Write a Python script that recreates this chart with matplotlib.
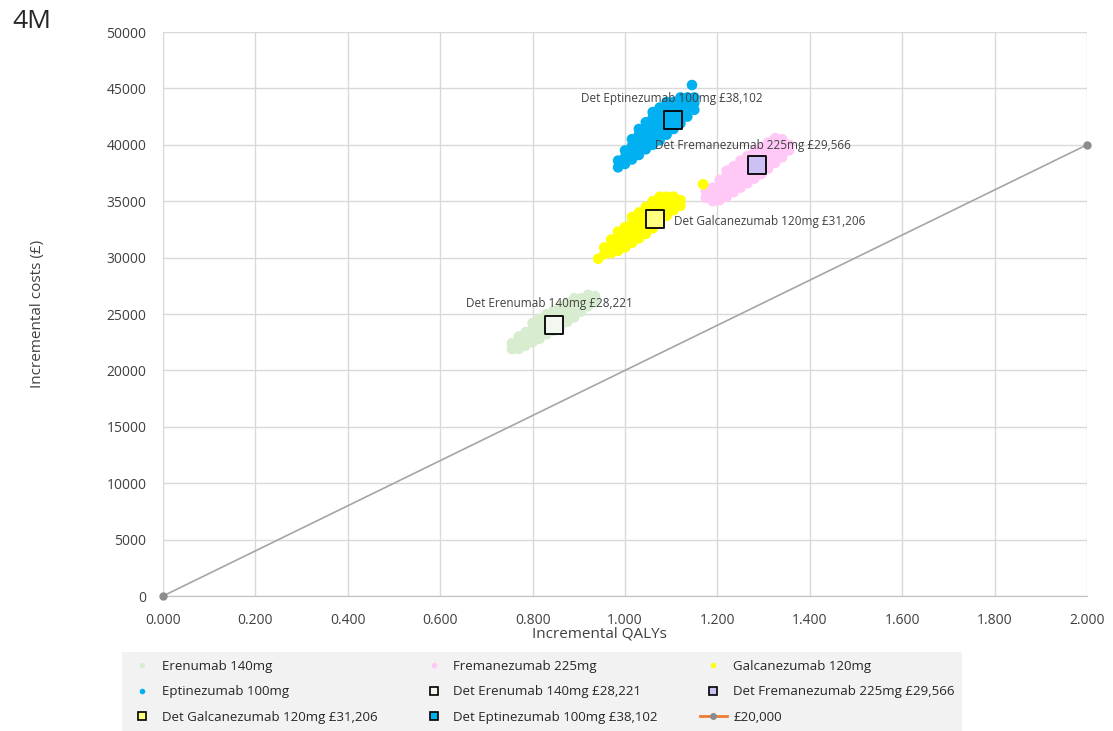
import matplotlib
matplotlib.use("Agg")
import matplotlib.pyplot as plt
from matplotlib.lines import Line2D

plt.rcParams['font.family'] = ['Open Sans', 'DejaVu Sans']

# ---------------- data ----------------
erenumab_pts = [
    (0.755, 21900), (0.755, 22400),
    (0.770, 21900), (0.770, 22500), (0.770, 23000),
    (0.785, 22200), (0.785, 22800), (0.785, 23400),
    (0.800, 22500), (0.800, 23100), (0.800, 23700), (0.800, 24200),
    (0.815, 22800), (0.815, 23400), (0.815, 24000), (0.815, 24600),
    (0.830, 23200), (0.830, 23800), (0.830, 24400), (0.830, 25000),
    (0.845, 23500), (0.845, 24100), (0.845, 24700), (0.845, 25300),
    (0.860, 23900), (0.860, 24500), (0.860, 25100), (0.860, 25700),
    (0.875, 24300), (0.875, 24900), (0.875, 25500), (0.875, 26000),
    (0.890, 24700), (0.890, 25300), (0.890, 25900), (0.890, 26400),
    (0.905, 25200), (0.905, 25800), (0.905, 26400),
    (0.920, 25700), (0.920, 26300), (0.920, 26700),
    (0.935, 26200), (0.935, 26600),
]
fremanezumab_pts = [
    (1.175, 35300), (1.175, 35900),
    (1.190, 35000), (1.190, 35600), (1.190, 36200),
    (1.205, 35100), (1.205, 35700), (1.205, 36300), (1.205, 36900),
    (1.220, 35400), (1.220, 36000), (1.220, 36600), (1.220, 37200), (1.220, 37700),
    (1.235, 35800), (1.235, 36400), (1.235, 37000), (1.235, 37600), (1.235, 38100),
    (1.250, 36200), (1.250, 36800), (1.250, 37400), (1.250, 38000), (1.250, 38600),
    (1.265, 36600), (1.265, 37200), (1.265, 37800), (1.265, 38400), (1.265, 39000),
    (1.280, 37000), (1.280, 37600), (1.280, 38200), (1.280, 38800), (1.280, 39400),
    (1.295, 37400), (1.295, 38000), (1.295, 38600), (1.295, 39200), (1.295, 39800),
    (1.310, 37900), (1.310, 38500), (1.310, 39100), (1.310, 39700), (1.310, 40200),
    (1.325, 38400), (1.325, 39000), (1.325, 39600), (1.325, 40200), (1.325, 40600),
    (1.340, 38900), (1.340, 39500), (1.340, 40100), (1.340, 40500),
    (1.355, 39500), (1.355, 40000),
]
galcanezumab_pts = [
    (0.942, 29900),
    (0.955, 30300), (0.955, 30900),
    (0.970, 30400), (0.970, 31000), (0.970, 31600),
    (0.985, 30600), (0.985, 31200), (0.985, 31800), (0.985, 32300),
    (1.000, 30900), (1.000, 31500), (1.000, 32100), (1.000, 32700),
    (1.015, 31300), (1.015, 31900), (1.015, 32500), (1.015, 33100), (1.015, 33600),
    (1.030, 31700), (1.030, 32300), (1.030, 32900), (1.030, 33500), (1.030, 34000),
    (1.045, 32100), (1.045, 32700), (1.045, 33300), (1.045, 33900), (1.045, 34500),
    (1.060, 32600), (1.060, 33200), (1.060, 33800), (1.060, 34400), (1.060, 35000),
    (1.075, 33100), (1.075, 33700), (1.075, 34300), (1.075, 34900), (1.075, 35400),
    (1.090, 33700), (1.090, 34300), (1.090, 34900), (1.090, 35400),
    (1.105, 34200), (1.105, 34800), (1.105, 35400),
    (1.120, 34600), (1.120, 35100),
    (1.169, 36500),
]
eptinezumab_pts = [
    (0.985, 38000), (0.985, 38600),
    (1.000, 38300), (1.000, 38900), (1.000, 39500),
    (1.015, 38700), (1.015, 39300), (1.015, 39900), (1.015, 40500),
    (1.030, 39100), (1.030, 39700), (1.030, 40300), (1.030, 40900), (1.030, 41400),
    (1.045, 39600), (1.045, 40200), (1.045, 40800), (1.045, 41400), (1.045, 42000),
    (1.060, 40000), (1.060, 40600), (1.060, 41200), (1.060, 41800), (1.060, 42400), (1.060, 42900),
    (1.075, 40400), (1.075, 41000), (1.075, 41600), (1.075, 42200), (1.075, 42800), (1.075, 43300),
    (1.090, 40900), (1.090, 41500), (1.090, 42100), (1.090, 42700), (1.090, 43300), (1.090, 43800),
    (1.105, 41400), (1.105, 42000), (1.105, 42600), (1.105, 43200), (1.105, 43800),
    (1.120, 41900), (1.120, 42500), (1.120, 43100), (1.120, 43700), (1.120, 44200),
    (1.135, 42500), (1.135, 43100), (1.135, 43700), (1.135, 44200),
    (1.150, 43100), (1.150, 43700), (1.150, 44200),
    (1.145, 45300),
]

det_names = ["Det Erenumab 140mg £28,221", "Det Fremanezumab 225mg £29,566",
             "Det Galcanezumab 120mg £31,206", "Det Eptinezumab 100mg £38,102"]
det_x = [0.846, 1.286, 1.065, 1.104]
det_y = [24000, 38200, 33400, 42200]

wtp_x = [0.0, 2.0]
wtp_y = [0, 40000]

x_ticks = [0.0, 0.2, 0.4, 0.6, 0.8, 1.0, 1.2, 1.4, 1.6, 1.8, 2.0]
y_ticks = [0, 5000, 10000, 15000, 20000, 25000, 30000, 35000, 40000, 45000, 50000]

# ---------------- figure ----------------
W, H = 1113, 731
fig = plt.figure(figsize=(W / 100, H / 100), dpi=100)
ax_l, ax_r, ax_t, ax_b = 163, 1087, 32, 596
ax = fig.add_axes([ax_l / W, 1 - ax_b / H, (ax_r - ax_l) / W, (ax_b - ax_t) / H])

grid_c = "#d9d9d9"
ax.set_xlim(0, 2.0)
ax.set_ylim(0, 50000)
ax.set_xticks(x_ticks)
ax.set_yticks(y_ticks)
ax.set_xticklabels([f"{v:.3f}" for v in x_ticks])
ax.set_yticklabels([str(v) for v in y_ticks])
ax.grid(True, color=grid_c, linewidth=1)
ax.set_axisbelow(True)
for s in ["top", "right"]:
    ax.spines[s].set_visible(False)
ax.spines["left"].set_color(grid_c)
ax.spines["bottom"].set_color("#bfbfbf")
ax.tick_params(length=0, labelsize=10, colors="#404040")
ax.tick_params(axis="y", pad=12)
ax.tick_params(axis="x", pad=12)
ax.set_xlabel("Incremental QALYs", fontsize=11, color="#404040")
ax.xaxis.set_label_coords((599 - ax_l) / (ax_r - ax_l), -(634 - ax_b) / (ax_b - ax_t))
ax.xaxis.label.set_va("center")
ax.set_ylabel("Incremental costs (£)", fontsize=11, color="#404040", labelpad=44)

cloud_s = 58
series = [
    ("Erenumab 140mg", erenumab_pts, "#d8edd0"),
    ("Fremanezumab 225mg", fremanezumab_pts, "#ffc8f6"),
    ("Galcanezumab 120mg", galcanezumab_pts, "#ffff00"),
    ("Eptinezumab 100mg", eptinezumab_pts, "#00b0f0"),
]
handles = {}
for name, pts, col in series:
    xs = [p[0] for p in pts]
    ys = [p[1] for p in pts]
    ax.scatter(xs, ys, s=cloud_s, color=col, edgecolors="none", zorder=2)
    handles[name] = Line2D([], [], linestyle="none", marker="o", markersize=4,
                           markerfacecolor=col, markeredgecolor="none")

# WTP line
ax.plot(wtp_x, wtp_y, color="#a5a5a5", linewidth=1.2, marker="o", markersize=5,
        markerfacecolor="#8c8c8c", markeredgecolor="#8c8c8c", zorder=3, clip_on=False)
handles["£20,000"] = Line2D([], [], color="#ed7d31", linewidth=2, marker="o", markersize=4,
                            markerfacecolor="#8c8c8c", markeredgecolor="#8c8c8c")

det_face = ["#f2f8ef", "#ccc0f5", "#ffff80", "#00b0f0"]
for i, n in enumerate(det_names):
    ax.scatter([det_x[i]], [det_y[i]], marker="s", s=150, facecolor=det_face[i],
               edgecolor="black", linewidth=1.3, zorder=4)
    handles[n] = Line2D([], [], linestyle="none", marker="s", markersize=6,
                        markerfacecolor=det_face[i], markeredgecolor="black",
                        markeredgewidth=1.2)

# labels
lab_kw = dict(fontsize=8.5, color="#404040", zorder=5)
ax.text(det_x[3] - 0.002, det_y[3] + 1900, det_names[3], ha="center", va="center", **lab_kw)
ax.text(det_x[1] - 0.22, det_y[1] + 1700, det_names[1], ha="left", va="center", **lab_kw)
ax.text(det_x[2] + 0.04, det_y[2] - 200, det_names[2], ha="left", va="center", **lab_kw)
ax.text(det_x[0] - 0.19, det_y[0] + 1900, det_names[0], ha="left", va="center", **lab_kw)

fig.text(12 / W, 1 - 21 / H, "4M", fontsize=19, color="#262626", ha="left", va="center")

# legend (row-major order via column-major reordering)
order = ["Erenumab 140mg", "Eptinezumab 100mg", det_names[2],
         "Fremanezumab 225mg", det_names[0], det_names[3],
         "Galcanezumab 120mg", det_names[1], "£20,000"]
leg = fig.legend([handles[k] for k in order], order, ncol=3, loc="lower left",
                 bbox_to_anchor=(122 / W, 0, (962 - 122) / W, 80 / H), mode="expand",
                 borderaxespad=0,
                 frameon=True, facecolor="#f2f2f2", edgecolor="none", fancybox=False,
                 fontsize=9.5, labelcolor="#262626", handlelength=2.0, handletextpad=0.5,
                 borderpad=0.55, labelspacing=0.95, columnspacing=1.0)
leg.get_frame().set_alpha(1)

fig.savefig("out.png", dpi=100)
